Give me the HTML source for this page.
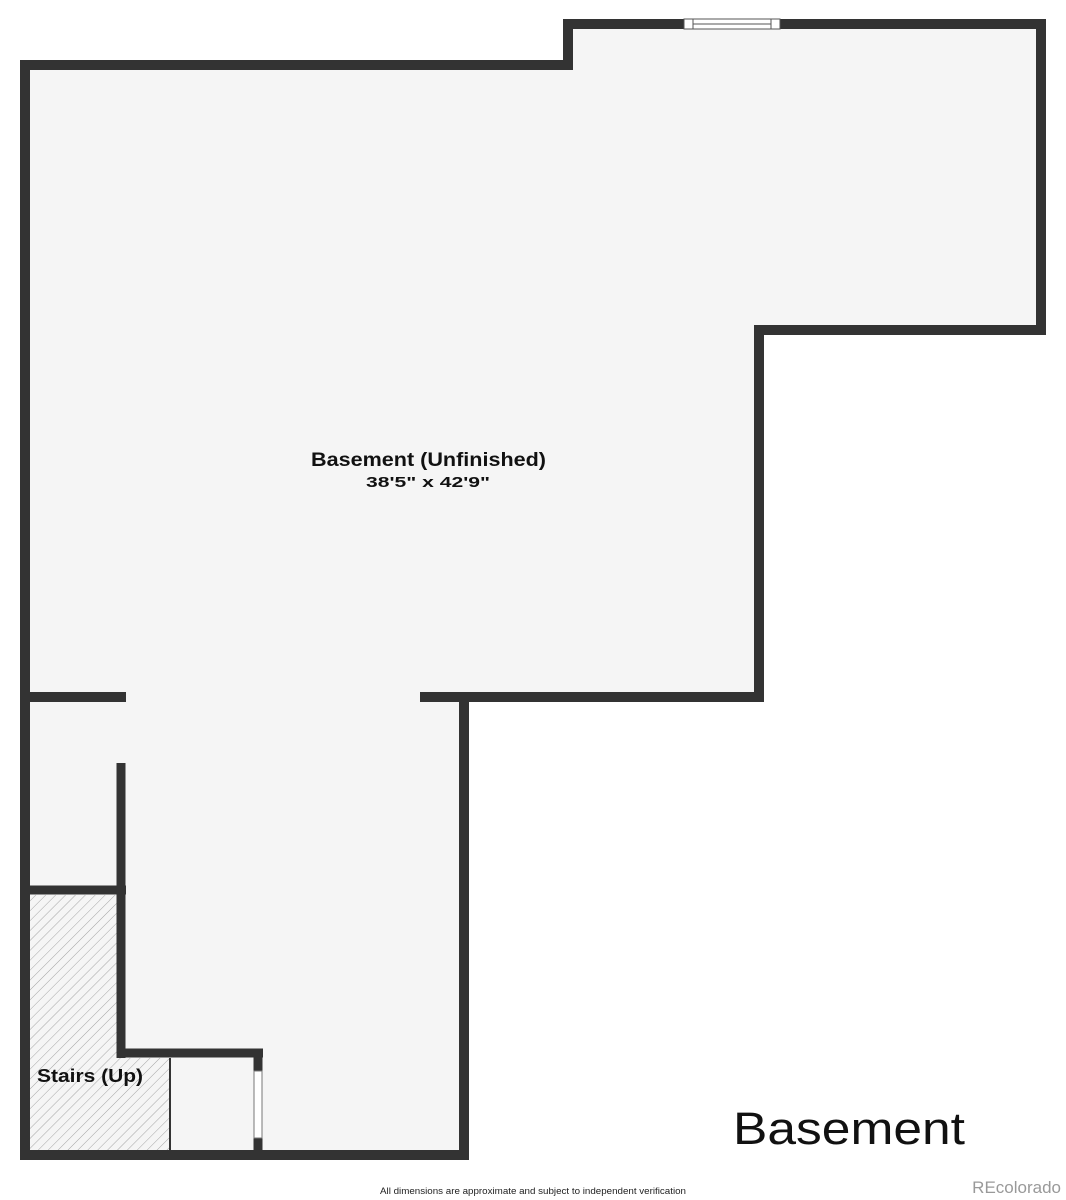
<!DOCTYPE html>
<html><head><meta charset="utf-8"><style>
html,body{margin:0;padding:0;background:#fff;}
svg{display:block;}
text{font-family:"Liberation Sans",sans-serif;}
</style></head><body>
<svg width="1066" height="1200" viewBox="0 0 1066 1200" xmlns="http://www.w3.org/2000/svg">
<defs>
<pattern id="h" width="7" height="7" patternUnits="userSpaceOnUse" patternTransform="rotate(45)">
<rect width="7" height="7" fill="#f5f5f5"/>
<line x1="0" y1="0" x2="0" y2="7" stroke="#a5a5a5" stroke-width="1"/>
</pattern>
</defs>
<polygon points="25,65 568,65 568,24 1041,24 1041,330 759,330 759,697 464,697 464,1155 25,1155" fill="#f5f5f5"/>
<polygon points="30,895 117,895 117,1058 170,1058 170,1150 30,1150" fill="url(#h)"/>
<line x1="170" y1="1058" x2="170" y2="1150" stroke="#333" stroke-width="2"/>
<polyline points="420,697 759,697 759,330 1041,330 1041,24 568,24 568,65 25,65 25,1155 464,1155 464,697" fill="none" stroke="#333" stroke-width="10" stroke-linejoin="miter"/>
<rect x="684" y="19" width="96" height="10" fill="#fff" stroke="#555" stroke-width="1"/>
<line x1="693" y1="19" x2="693" y2="29" stroke="#555" stroke-width="1"/>
<line x1="771" y1="19" x2="771" y2="29" stroke="#555" stroke-width="1"/>
<line x1="693" y1="24" x2="771" y2="24" stroke="#555" stroke-width="1"/>
<line x1="20" y1="697" x2="126" y2="697" stroke="#333" stroke-width="10"/>
<line x1="121" y1="763" x2="121" y2="1058" stroke="#333" stroke-width="9"/>
<line x1="20" y1="890" x2="126" y2="890" stroke="#333" stroke-width="9"/>
<line x1="117" y1="1053" x2="263" y2="1053" stroke="#333" stroke-width="9"/>
<line x1="258" y1="1049" x2="258" y2="1071" stroke="#333" stroke-width="9"/>
<line x1="258" y1="1138" x2="258" y2="1160" stroke="#333" stroke-width="9"/>
<rect x="254" y="1071" width="8" height="67" fill="#fff" stroke="#777" stroke-width="1"/>
<text x="311" y="466" font-size="19" font-weight="bold" fill="#111" textLength="235" lengthAdjust="spacingAndGlyphs">Basement (Unfinished)</text>
<text x="366" y="487" font-size="15" font-weight="bold" fill="#111" textLength="124" lengthAdjust="spacingAndGlyphs">38'5" x 42'9"</text>
<text x="37" y="1082" font-size="18" font-weight="bold" fill="#111" textLength="106" lengthAdjust="spacingAndGlyphs">Stairs (Up)</text>
<text x="733" y="1144" font-size="45" fill="#111" textLength="232" lengthAdjust="spacingAndGlyphs">Basement</text>
<text x="380" y="1194" font-size="9" fill="#222" textLength="306" lengthAdjust="spacingAndGlyphs">All dimensions are approximate and subject to independent verification</text>
<text x="1061" y="1193" text-anchor="end" font-size="17" fill="#999">REcolorado</text>
</svg>
</body></html>
